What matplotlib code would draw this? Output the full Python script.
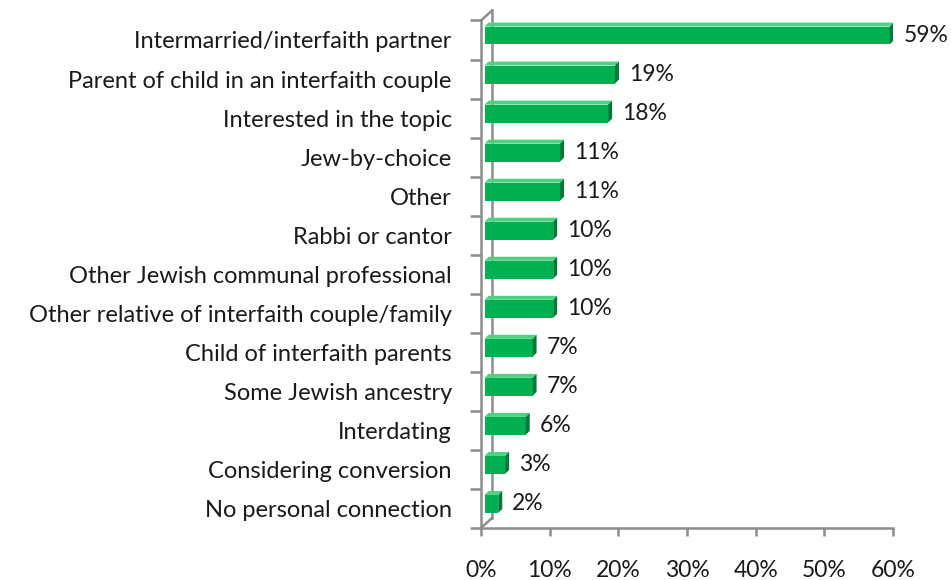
import matplotlib.pyplot as plt
import matplotlib.transforms as mtransforms
from matplotlib.patches import Polygon

categories = [
    "Intermarried/interfaith partner",
    "Parent of child in an interfaith couple",
    "Interested in the topic",
    "Jew-by-choice",
    "Other",
    "Rabbi or cantor",
    "Other Jewish communal professional",
    "Other relative of interfaith couple/family",
    "Child of interfaith parents",
    "Some Jewish ancestry",
    "Interdating",
    "Considering conversion",
    "No personal connection",
]
values = [59, 19, 18, 11, 11, 10, 10, 10, 7, 7, 6, 3, 2]
xticks = [0, 10, 20, 30, 40, 50, 60]

plt.rcParams["font.family"] = ["Lato", "DejaVu Sans"]

fig = plt.figure(figsize=(9.51, 5.80), dpi=100)
ax = fig.add_axes([0.5058, 0.0897, 0.4332, 0.875])
ax.set_xlim(0, 60)
ax.set_ylim(len(categories) - 0.5, -0.5)

grey = "#8c8c8c"
front = "#00b050"
side = "#007a36"
top = "#4fd184"
txt = "#1a1a1a"

# bars sit a little back and up from the front plane (3d look)
bar_tr = mtransforms.offset_copy(ax.transData, fig, x=3.5, y=4.5, units="dots")
h = 0.46
dx = 4.0 * 60 / 412.0
dy = 4.0 * 12.95 / 507.5

for i, v in enumerate(values):
    ax.barh(i, v, height=h, color=front, edgecolor="none", transform=bar_tr, zorder=3)
    y0, y1 = i - h / 2, i + h / 2
    ax.add_patch(Polygon([(0, y0), (dx, y0 - dy), (v + dx, y0 - dy), (v, y0)],
                         closed=True, facecolor=top, edgecolor="none",
                         transform=bar_tr, zorder=3))
    ax.add_patch(Polygon([(v, y0), (v + dx, y0 - dy), (v + dx, y1 - dy), (v, y1)],
                         closed=True, facecolor=side, edgecolor="none",
                         transform=bar_tr, zorder=3))
    lab_tr = mtransforms.offset_copy(bar_tr, fig, x=10, y=0, units="dots")
    ax.text(v + dx, i, "%d%%" % v, transform=lab_tr, ha="left", va="center",
            fontsize=16.5, color=txt, zorder=4, clip_on=False)

for s in ["top", "right"]:
    ax.spines[s].set_visible(False)
for s in ["left", "bottom"]:
    ax.spines[s].set_color(grey)
    ax.spines[s].set_linewidth(1.8)

ax.set_xticks(xticks)
ax.set_xticklabels(["%d%%" % t for t in xticks])
ax.tick_params(axis="x", length=6, width=1.8, color=grey, pad=17, labelsize=16.5,
               labelcolor=txt)

ax.set_yticks(range(len(categories)))
ax.set_yticklabels(categories)
ax.tick_params(axis="y", length=0, pad=21, labelsize=17, labelcolor=txt)
ax.set_yticks([i - 0.5 for i in range(len(categories) + 1)], minor=True)
ax.tick_params(axis="y", which="minor", length=8, width=1.8, color=grey)

# back wall of the 3d frame
wall = mtransforms.offset_copy(ax.transAxes, fig, x=11, y=10, units="dots")
ax.plot([0, 0], [0, 1], color=grey, lw=1.8, transform=wall, clip_on=False, zorder=1)
for ya in (0, 1):
    x0, y0 = ax.transAxes.transform((0, ya))
    fig.add_artist(plt.Line2D([x0, x0 + 11], [y0, y0 + 10], color=grey, lw=1.8,
                              transform=None))

fig.savefig("out.png", dpi=100)
